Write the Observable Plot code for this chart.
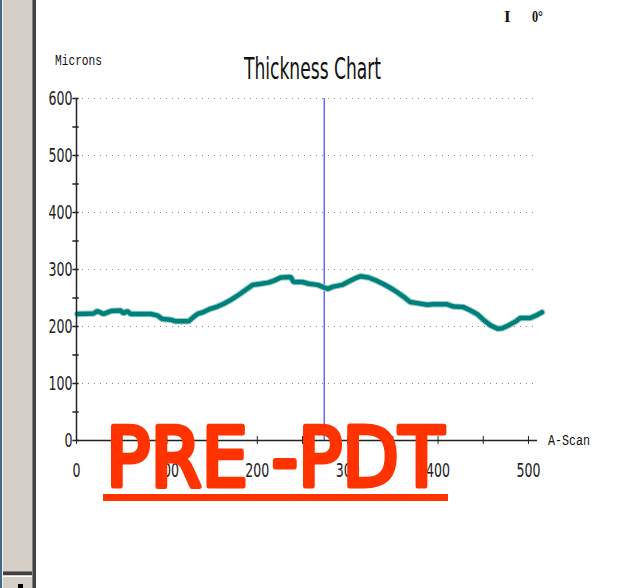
<!DOCTYPE html>
<html><head><meta charset="utf-8">
<script src="https://cdn.jsdelivr.net/npm/d3@7"></script>
<script src="https://cdn.jsdelivr.net/npm/@observablehq/plot@0.6"></script>
<style>
body{margin:0;background:#fff;}
#root{position:relative;width:628px;height:588px;overflow:hidden;background:#fff;}
#root > *{position:absolute;left:0;top:0;}
</style></head><body><div id="root"></div>
<script>
// ---- data ----
const aScan = [1, 19, 23, 30, 38, 49, 52, 56, 60, 82, 90, 95, 104, 110, 124, 129, 134, 140, 148, 156, 163, 170, 178, 187, 195, 204, 212, 218, 226, 237, 240, 250, 257, 267, 273, 278, 284, 294, 300, 309, 314, 323, 331, 340, 347, 355, 362, 369, 377, 388, 395, 410, 417, 428, 436, 444, 450, 458, 466, 471, 478, 486, 491, 502, 508, 515];
const thickness = [222, 223, 227, 222, 227, 228, 223, 227, 222, 222, 219, 213, 212, 209, 209, 216, 222, 225, 231, 235, 240, 246, 254, 264, 273, 275, 277, 280, 286, 287, 278, 278, 275, 273, 269, 266, 270, 273, 278, 285, 288, 286, 281, 274, 268, 260, 252, 243, 241, 238, 239, 239, 235, 234, 228, 221, 212, 202, 196, 197, 202, 209, 215, 215, 219, 225];
const markerPosition = [274];
const yGridValues = [100, 200, 300, 400, 500, 600];
const yTickValues = [0, 50, 100, 150, 200, 250, 300, 350, 400, 450, 500, 550, 600];
const yLabelValues = [0, 100, 200, 300, 400, 500, 600];
const xTickValues = [0, 50, 100, 150, 200, 250, 300, 350, 400, 450, 500];
const xLabelValues = [0, 100, 200, 300, 400, 500];
const titleText = "Thickness Chart";
const yAxisLabel = "Microns";
const xAxisLabel = "A-Scan";
const stampText = "PRE -PDT";
const cornerTexts = ["I", "0°"];

const root = document.getElementById("root");
const data = aScan.map((x, i) => ({x, y: thickness[i]}));
const narrow = "'Liberation Sans Narrow','Arial Narrow','DejaVu Sans Condensed','Liberation Sans',sans-serif";

const chart = Plot.plot({
  width: 628, height: 588,
  marginLeft: 76, marginRight: 91, marginTop: 98, marginBottom: 148,
  x: {domain: [0, 510], axis: null},
  y: {domain: [0, 600], axis: null},
  style: {background: "transparent", overflow: "visible"},
  marks: [
    Plot.ruleY(yGridValues, {x1: 0, x2: 510, stroke: "#8c8c8c", strokeDasharray: "1,5", strokeWidth: 1}),
    Plot.ruleX(markerPosition, {y1: 0, y2: 600, stroke: "#1a1aff", strokeWidth: 1}),
    Plot.line(data, {x: "x", y: "y", stroke: "#9ccfcc", strokeWidth: 6.5, strokeLinejoin: "miter"}),
    Plot.line(data, {x: "x", y: "y", stroke: "#00807a", strokeWidth: 4.5, strokeLinejoin: "miter"}),
    Plot.ruleY([0], {x1: 0, x2: 510, stroke: "#222", strokeWidth: 1.5}),
    Plot.ruleX([0], {y1: 0, y2: 600, stroke: "#222", strokeWidth: 1.5}),
    Plot.ruleX(xTickValues, {y1: -7, y2: 7, stroke: "#222", strokeWidth: 1}),
    Plot.ruleY(yTickValues, {x1: -4, x2: 3, stroke: "#222", strokeWidth: 1.5}),
    Plot.text(xLabelValues, {x: d => d, y: 0, dy: 30, text: d => String(d), fontSize: 19, fontFamily: narrow, fill: "#222"}),
    Plot.text(yLabelValues, {x: 0, y: d => d, dx: -4, textAnchor: "end", text: d => String(d), fontSize: 19, fontFamily: narrow, fill: "#222"})
  ]
});
// condense the tick labels like the reference's narrow face
chart.querySelectorAll("text").forEach(t => {
  const n = t.textContent.length;
  t.setAttribute("textLength", n * 8);
  t.setAttribute("lengthAdjust", "spacingAndGlyphs");
});
root.appendChild(chart);

// ---- window chrome on the left ----
function box(l, t, w, h, bg) {
  const d = document.createElement("div");
  d.style.cssText = `position:absolute;left:${l}px;top:${t}px;width:${w}px;height:${h}px;background:${bg};`;
  root.appendChild(d);
}
box(0, 0, 2, 588, "#44688f");
box(2, 0, 1, 588, "#f4f3ee");
box(3, 0, 30, 588, "#d4d0c8");
box(32, 0, 1, 588, "#808080");
box(33, 0, 3, 588, "#404040");
box(3, 571, 29, 1, "#808080");
box(3, 572, 29, 3, "#404040");
box(3, 576, 29, 1, "#ffffff");
box(18, 584, 5, 4, "#000000");

// ---- texts ----
const NS = "http://www.w3.org/2000/svg";
const svg = document.createElementNS(NS, "svg");
svg.setAttribute("width", 628); svg.setAttribute("height", 588);
svg.style.cssText = "position:absolute;left:0;top:0;overflow:visible;";
root.appendChild(svg);
function txt(s, x, y, size, family, opts = {}) {
  const t = document.createElementNS(NS, "text");
  t.textContent = s;
  t.setAttribute("x", x); t.setAttribute("y", y);
  t.setAttribute("font-size", size);
  t.setAttribute("font-family", family);
  t.setAttribute("fill", opts.fill || "#111");
  if (opts.len) { t.setAttribute("textLength", opts.len); t.setAttribute("lengthAdjust", "spacingAndGlyphs"); }
  if (opts.weight) t.setAttribute("font-weight", opts.weight);
  if (opts.anchor) t.setAttribute("text-anchor", opts.anchor);
  if (opts.stroke) {
    t.setAttribute("stroke", opts.stroke); t.setAttribute("stroke-width", opts.sw);
    t.setAttribute("stroke-linejoin", "round"); t.setAttribute("stroke-linecap", "round");
  }
  svg.appendChild(t);
  return t;
}
txt(titleText, 244, 79, 30, narrow, {len: 137});
txt(yAxisLabel, 55, 65, 14, "'Liberation Mono',monospace", {len: 47});
txt(xAxisLabel, 548, 445, 14, "'Liberation Mono',monospace", {len: 42});
txt(cornerTexts[0], 504, 22, 17, "'Liberation Serif',serif", {weight: "bold"});
txt(cornerTexts[1], 532, 22, 16, "'Liberation Serif',serif", {weight: "bold", len: 11});
txt(stampText, 106, 486, 82, "'Comic Sans MS','DejaVu Sans',sans-serif", {fill: "#ff3300", stroke: "#ff3300", sw: 5, len: 338});
const u = document.createElementNS(NS, "rect");
u.setAttribute("x", 103); u.setAttribute("y", 494); u.setAttribute("width", 345); u.setAttribute("height", 7); u.setAttribute("fill", "#ff3300");
svg.appendChild(u);
</script></body></html>
